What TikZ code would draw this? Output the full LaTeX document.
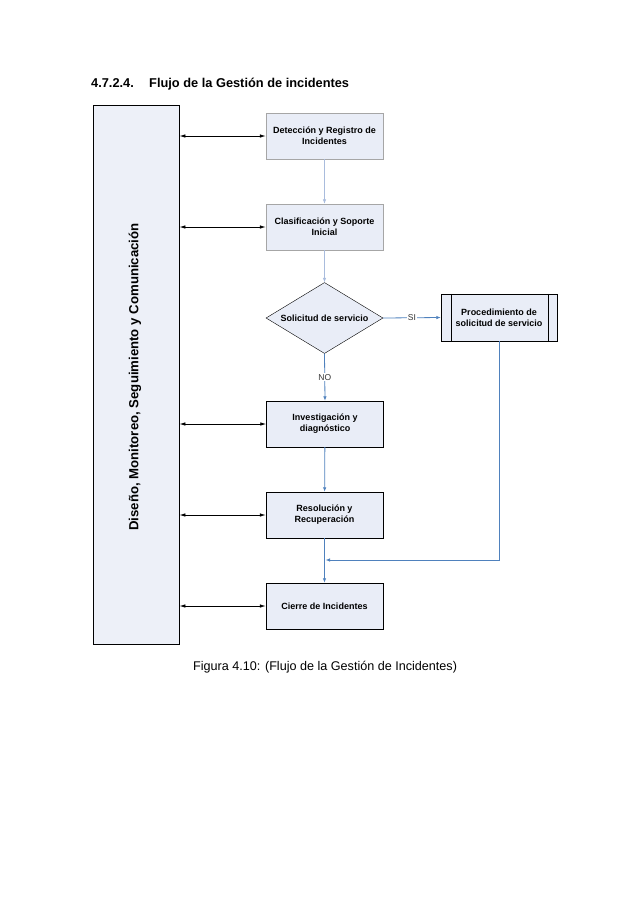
\documentclass[tikz,border=0pt]{standalone}
\usepackage{fontspec}
\setmainfont{Liberation Sans}
\usetikzlibrary{arrows.meta,shapes.geometric}
\definecolor{boxfill}{HTML}{E9EDF7}
\definecolor{leftfill}{HTML}{EDF0F8}
\definecolor{flowblue}{HTML}{4F81BD}
\definecolor{lightblue}{HTML}{A9BCDD}
\definecolor{graybd}{HTML}{A6A6A6}
\tikzset{
  procbox/.style={draw=black, fill=boxfill, minimum width=117pt, minimum height=46pt, inner sep=0pt, align=center, font=\fontsize{9}{11}\selectfont\bfseries},
  softbox/.style={procbox, draw=graybd},
  dbl/.style={{Latex[length=6pt,width=3.5pt]}-{Latex[length=6pt,width=3.5pt]}, line width=0.8pt, black},
  flow/.style={-{Latex[length=4.5pt,width=3.5pt]}, flowblue, line width=0.8pt},
  lflow/.style={-{Latex[length=4.5pt,width=3.5pt]}, lightblue, line width=0.7pt},
  lbl/.style={font=\fontsize{8.5}{10}\selectfont, fill=white, inner sep=1pt, text=black!80}
}
\begin{document}
\begin{tikzpicture}[x=1pt,y=-1pt]
\useasboundingbox (0,0) rectangle (638,903);
% heading
\node[anchor=base west, font=\fontsize{12.8}{15}\selectfont\bfseries, inner sep=0pt] (head) at (91,87) {4.7.2.4.};
\node[anchor=base west, font=\fontsize{12.8}{15}\selectfont\bfseries, inner sep=0pt] (headt) at (149,87) {Flujo de la Gestión de incidentes};
% left box
\node[draw=black, fill=leftfill, minimum width=86pt, minimum height=539pt, inner sep=0pt, line width=0.8pt] (left) at (136,375) {};
\node[rotate=90, font=\fontsize{13.2}{15}\selectfont\bfseries] (lefttxt) at (135,377) {Diseño, Monitoreo, Seguimiento y Comunicación};
% boxes
\node[softbox] (b1) at (324.5,136) {Detección y Registro de\\Incidentes};
\node[softbox] (b2) at (324.5,227) {Clasificación y Soporte\\Inicial};
\node[draw=black, fill=boxfill, diamond, aspect=1.65, minimum width=117pt, minimum height=71pt, inner sep=0pt] (d) at (324.5,318) {};
\node[font=\fontsize{9}{11}\selectfont\bfseries] (dtxt) at (324.5,318) {Solicitud de servicio};
\node[procbox, minimum width=116pt, minimum height=47pt] (p) at (499,317.5) {Procedimiento de\\solicitud de servicio};
\draw[black] ([xshift=10pt]p.north west) -- ([xshift=10pt]p.south west);
\draw[black] ([xshift=-9pt]p.north east) -- ([xshift=-9pt]p.south east);
\node[procbox] (b3) at (325,424) {Investigación y\\diagnóstico};
\node[procbox] (b4) at (324.5,515) {Resolución y\\Recuperación};
\node[procbox] (b5) at (324.5,606) {Cierre de Incidentes};
% caption
\node[anchor=base west, font=\fontsize{12.6}{15}\selectfont, inner sep=0pt] (cap) at (193,670) {Figura 4.10: (Flujo de la Gestión de Incidentes)};
% double arrows
\foreach \b in {b1,b2,b3,b4,b5}{
  \draw[dbl] (left.east |- \b.west) -- (\b.west);
}
% flow
\draw[lflow] (b1) -- (b2);
\draw[lflow] (b2) -- (d.north);
\draw[flow] (d.east) -- node[lbl] (si) {SI} (p.west);
\draw[flow] (d.south) -- node[lbl, pos=0.5] (no) {NO} (b3.north);
\draw[flow] (b3) -- (b4);
\draw[flow] (b4) -- (b5);
\coordinate (m) at (324.5,560);
\draw[flow] (p.south) |- ([xshift=1pt]m);
\end{tikzpicture}
\end{document}
